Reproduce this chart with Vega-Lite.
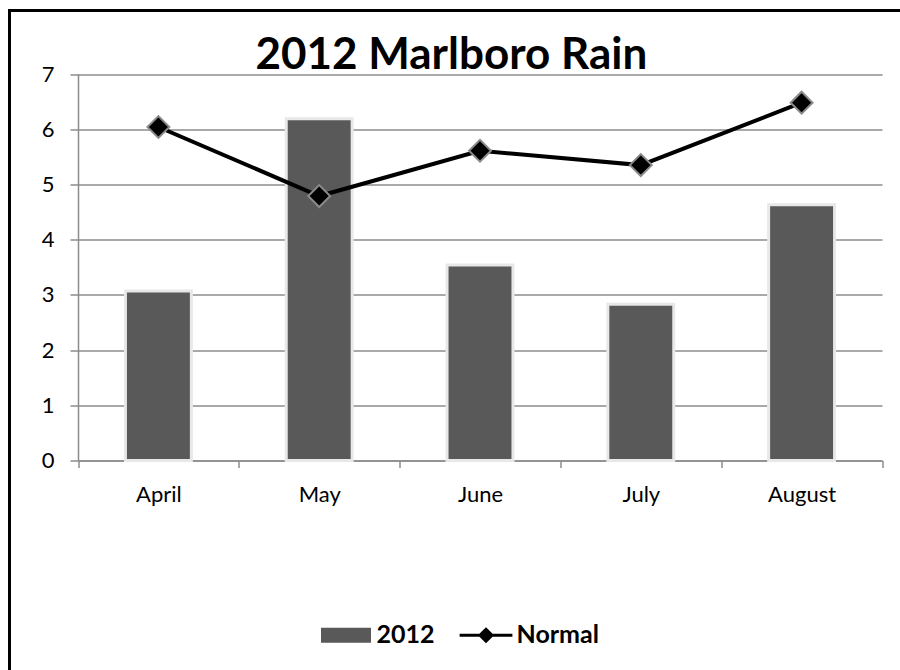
{
  "$schema": "https://vega.github.io/schema/vega-lite/v6.json",
  "width": 890.5,
  "height": 659.5,
  "autosize": "none",
  "padding": {"left": 9.5, "top": 10.5, "right": 3, "bottom": 0},
  "background": "white",
  "view": {
    "stroke": "#000000",
    "strokeWidth": 3,
    "strokeCap": "square",
    "strokeDash": [890.5, 1550, 659.5]
  },
  "title": {
    "text": "2012 Marlboro Rain",
    "font": "Lato",
    "fontSize": 44,
    "fontWeight": "bold",
    "color": "black",
    "anchor": "start",
    "frame": "group",
    "offset": -67,
    "dx": 246
  },
  "data": {
    "values": [
      {"month": "April", "rain2012": 3.07, "normal": 6.04},
      {"month": "May", "rain2012": 6.19, "normal": 4.79},
      {"month": "June", "rain2012": 3.54, "normal": 5.61},
      {"month": "July", "rain2012": 2.83, "normal": 5.35},
      {"month": "August", "rain2012": 4.63, "normal": 6.48}
    ]
  },
  "encoding": {
    "x": {
      "field": "month",
      "type": "nominal",
      "sort": ["April", "May", "June", "July", "August"],
      "scale": {"range": [68.5, 872.5], "paddingInner": 0, "paddingOuter": 0},
      "axis": {
        "title": null,
        "orient": "bottom",
        "offset": -209.5,
        "labelAngle": 0,
        "labelFont": "Lato",
        "labelFontSize": 22,
        "labelColor": "black",
        "labelPadding": 17,
        "tickBand": "extent",
        "tickSize": 7,
        "tickWidth": 1.5,
        "tickColor": "#8c8c8c",
        "domainColor": "#8c8c8c",
        "domainWidth": 1.5,
        "grid": false
      }
    }
  },
  "layer": [
    {
      "mark": {"type": "bar", "fill": "#595959", "stroke": "#e8e8e8", "strokeWidth": 3, "width": {"band": 0.41}},
      "encoding": {
        "y": {
          "field": "rain2012",
          "type": "quantitative",
          "scale": {"domain": [0, 7], "range": [450, 63.5], "nice": false},
          "axis": {
            "title": null,
            "orient": "left",
            "offset": -68.5,
            "values": [0, 1, 2, 3, 4, 5, 6, 7],
            "format": "d",
            "labelFont": "Lato",
            "labelFontSize": 22,
            "labelColor": "black",
            "labelPadding": 16,
            "tickSize": 8,
            "tickWidth": 1.5,
            "tickColor": "#8c8c8c",
            "domainColor": "#8c8c8c",
            "domainWidth": 1.5,
            "grid": true,
            "gridColor": "#8c8c8c",
            "gridWidth": 1.5
          }
        },
        "color": {
          "datum": "2012",
          "scale": {"domain": ["2012", "Normal"], "range": ["#595959", "#000000"]},
          "legend": {
            "title": null,
            "orient": "none",
            "direction": "horizontal",
            "legendX": 324,
            "legendY": 612,
            "padding": 0,
            "labelFont": "Lato",
            "labelFontSize": 25,
            "labelFontWeight": "bold",
            "labelColor": "black",
            "symbolSize": 256,
            "labelOffset": 18,
            "columnPadding": 18,
            "encode": {
              "symbols": {
                "update": {
                  "shape": {"signal": "datum.value === '2012' ? 'M-3.125,-0.94H3.125V0.94H-3.125Z' : 'M-3.3,0H3.3M0,-0.75L0.75,0L0,0.75L-0.75,0Z'"},
                  "fill": {"signal": "datum.value === '2012' ? '#595959' : '#000000'"},
                  "stroke": {"value": "#000000"},
                  "strokeWidth": {"signal": "datum.value === '2012' ? 0 : 3"},
                  "opacity": {"value": 1},
                  "fillOpacity": {"value": 1}
                }
              }
            }
          }
        }
      }
    },
    {
      "mark": {"type": "line", "stroke": "#000000", "strokeWidth": 4},
      "encoding": {
        "y": {"field": "normal", "type": "quantitative"},
        "color": {
          "datum": "Normal",
          "legend": {
            "title": null,
            "orient": "none",
            "direction": "horizontal",
            "legendX": 324,
            "legendY": 612,
            "padding": 0,
            "labelFont": "Lato",
            "labelFontSize": 25,
            "labelFontWeight": "bold",
            "labelColor": "black",
            "symbolSize": 256,
            "labelOffset": 18,
            "columnPadding": 18,
            "encode": {
              "symbols": {
                "update": {
                  "shape": {"signal": "datum.value === '2012' ? 'M-3.125,-0.94H3.125V0.94H-3.125Z' : 'M-3.3,0H3.3M0,-0.75L0.75,0L0,0.75L-0.75,0Z'"},
                  "fill": {"signal": "datum.value === '2012' ? '#595959' : '#000000'"},
                  "stroke": {"value": "#000000"},
                  "strokeWidth": {"signal": "datum.value === '2012' ? 0 : 3"},
                  "opacity": {"value": 1},
                  "fillOpacity": {"value": 1}
                }
              }
            }
          }
        }
      }
    },
    {
      "mark": {"type": "point", "shape": "diamond", "filled": true, "fill": "#000000", "stroke": "#8a8a8a", "strokeWidth": 2, "size": 480, "opacity": 1},
      "encoding": {
        "y": {"field": "normal", "type": "quantitative"}
      }
    }
  ]
}
